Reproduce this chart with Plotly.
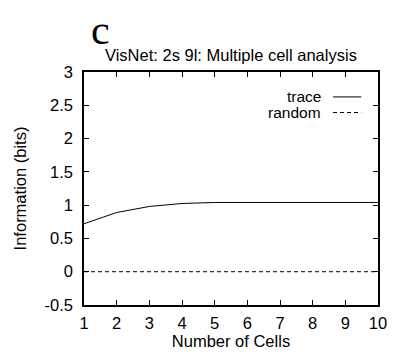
import plotly.graph_objects as go

cells = [1, 2, 3, 4, 5, 6, 7, 8, 9, 10]
trace_info = [0.72, 0.89, 0.98, 1.025, 1.04, 1.04, 1.04, 1.04, 1.04, 1.04]
random_info = [0, 0, 0, 0, 0, 0, 0, 0, 0, 0]
y_ticks = [-0.5, 0, 0.5, 1, 1.5, 2, 2.5, 3]
y_tick_labels = ["-0.5", "0", "0.5", "1", "1.5", "2", "2.5", "3"]

fig = go.Figure()
fig.add_trace(go.Scatter(x=cells, y=trace_info, mode="lines", name="trace",
                         line=dict(color="black", width=1), showlegend=False))
fig.add_trace(go.Scatter(x=cells, y=random_info, mode="lines", name="random",
                         line=dict(color="black", width=1, dash="4px,3px"), showlegend=False))

FS = 16.5
font = dict(family="Liberation Sans, Arial, sans-serif", size=FS, color="black")

fig.update_layout(
    width=399, height=363,
    margin=dict(l=84, r=15, t=72, b=58),
    paper_bgcolor="white", plot_bgcolor="white",
    font=font,
    xaxis=dict(range=[1, 10], tickvals=cells, ticks="inside", ticklen=5,
               tickcolor="black", showline=True, linecolor="black", linewidth=1.5,
               mirror="ticks", showgrid=False, zeroline=False, ticklabelstandoff=2,
               title=dict(text="Number of Cells", font=dict(size=FS), standoff=2)),
    yaxis=dict(range=[-0.5, 3], tickvals=y_ticks, ticktext=y_tick_labels,
               ticks="inside", ticklen=5, tickcolor="black", showline=True,
               linecolor="black", linewidth=1.5, mirror="ticks", showgrid=False,
               zeroline=False, ticklabelstandoff=6,
               title=dict(text="Information (bits)", font=dict(size=FS), standoff=14)),
)

# title
fig.add_annotation(text="VisNet: 2s 9l: Multiple cell analysis", xref="paper", yref="paper",
                   x=0.5, y=1.0, yshift=6, xanchor="center", yanchor="bottom",
                   showarrow=False, font=dict(size=FS))
# panel letter
fig.add_annotation(text="c", xref="paper", yref="paper", x=0.057, y=1.18,
                   xanchor="center", yanchor="middle", showarrow=False,
                   font=dict(family="Liberation Serif, Times New Roman, serif", size=42))

# manual legend (text left of sample line)
for lab, dash, yy in [("trace", "solid", 0.893), ("random", "4px,3px", 0.826)]:
    fig.add_annotation(text=lab, xref="paper", yref="paper", x=0.81, y=yy,
                       xanchor="right", yanchor="middle", showarrow=False,
                       font=dict(size=15.5), borderpad=0)
    fig.add_shape(type="line", xref="paper", yref="paper", x0=0.847, x1=0.943,
                  y0=yy, y1=yy, line=dict(color="black", width=1, dash=dash))

fig.write_html("out.html")
